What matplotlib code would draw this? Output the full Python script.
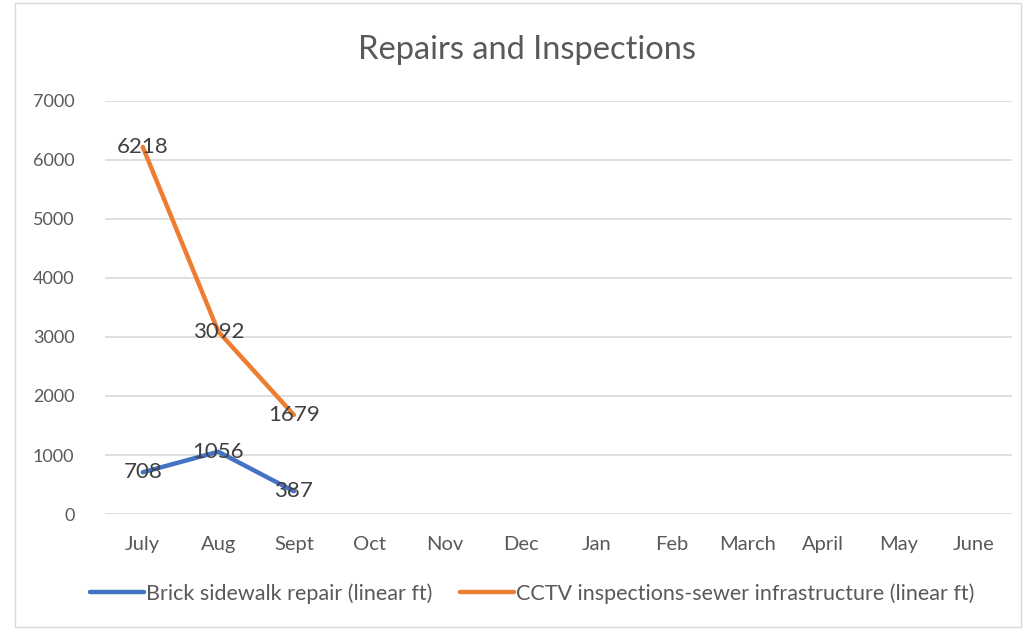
import matplotlib.pyplot as plt
from matplotlib.patches import Rectangle

plt.rcParams['font.family'] = ['Lato', 'DejaVu Sans']

months = ['July', 'Aug', 'Sept', 'Oct', 'Nov', 'Dec', 'Jan', 'Feb', 'March', 'April', 'May', 'June']
brick = [708, 1056, 387]
cctv = [6218, 3092, 1679]
labels = ['Brick sidewalk repair (linear ft)', 'CCTV inspections-sewer infrastructure (linear ft)']

grey = '#595959'
fig = plt.figure(figsize=(10.24, 6.3), dpi=100)
ax = fig.add_axes([0.1025, 0.184, 0.8855, 0.656])

x = list(range(len(months)))
ax.plot(x[:len(brick)], brick, color='#4472C4', linewidth=3.2, label=labels[0], solid_capstyle='round')
ax.plot(x[:len(cctv)], cctv, color='#ED7D31', linewidth=3.2, label=labels[1], solid_capstyle='round')
for ys in [brick, cctv]:
    for i, v in enumerate(ys):
        ax.text(x[i], v, str(v), ha='center', va='center', fontsize=16, color='#404040')

ax.set_xlim(-0.5, len(months) - 0.5)
ax.set_ylim(0, 7000)
ax.set_yticks(range(0, 7001, 1000))
ax.set_xticks(x)
ax.set_xticklabels(months)
ax.tick_params(axis='x', length=0, labelsize=14.5, labelcolor=grey, pad=16)
ax.tick_params(axis='y', length=0, labelsize=13, labelcolor=grey, pad=22)
ax.grid(axis='y', color='#D9D9D9', linewidth=1.2)
ax.set_axisbelow(True)
for s in ax.spines.values():
    s.set_visible(False)

fig.text(0.515, 0.92, 'Repairs and Inspections', ha='center', va='center', fontsize=23.5, color=grey)
fig.legend(loc='center', bbox_to_anchor=(0.52, 0.058), ncol=2, frameon=False, fontsize=15.5,
           handlelength=2.5, handletextpad=0.1, columnspacing=1.3, labelcolor=grey)
fig.patches.append(Rectangle((0.015, 0.005), 0.982, 0.99, transform=fig.transFigure,
                             fill=False, edgecolor='#D9D9D9', linewidth=1))

fig.savefig('out.png', dpi=100)
